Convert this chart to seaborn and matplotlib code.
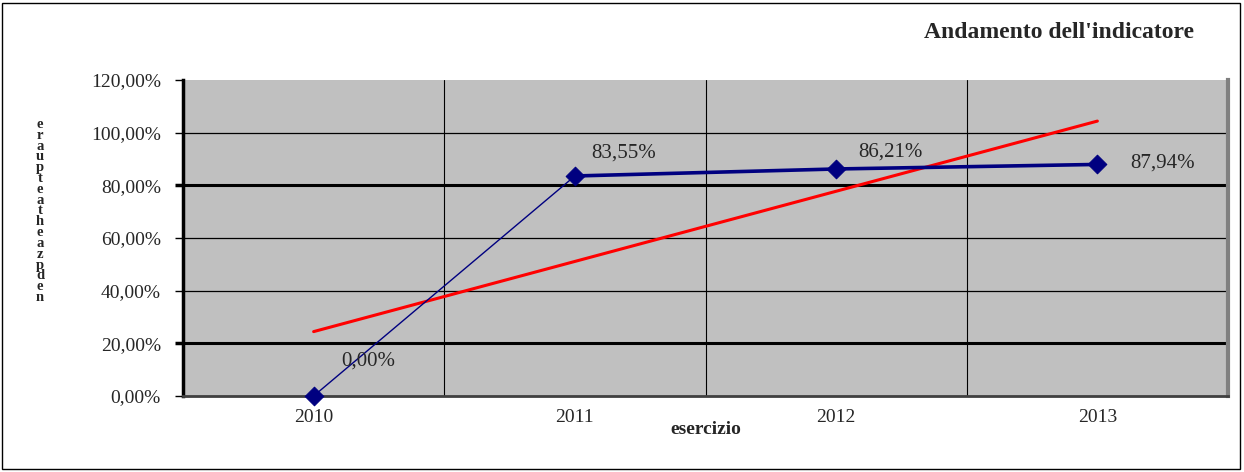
import numpy as np
import pandas as pd
import matplotlib
matplotlib.use("Agg")
import matplotlib.pyplot as plt
import seaborn as sns

anni = ["2010", "2011", "2012", "2013"]
valori = [0.00, 83.55, 86.21, 87.94]
etichette = ["0,00%", "83,55%", "86,21%", "87,94%"]
tick_y = [0, 20, 40, 60, 80, 100, 120]
tick_y_lab = ["0,00%", "20,00%", "40,00%", "60,00%", "80,00%", "100,00%", "120,00%"]
ylabel_lettere = list("eraupteatheazpden")

sns.set_style("white")
plt.rcParams["font.family"] = ["Liberation Serif", "DejaVu Serif"]

df = pd.DataFrame({"pos": np.arange(len(anni)), "anno": anni, "valore": valori})

fig = plt.figure(figsize=(12.44, 4.72), dpi=100)
ax = fig.add_axes([183/1244, 1-396/472, (1228-183)/1244, (396-80)/472])
ax.set_facecolor("#C0C0C0")

# griglia
for y in tick_y[1:-1]:
    lw = 2.2 if y in (20, 80) else 0.9
    ax.axhline(y, color="black", lw=lw, zorder=1)
for x in [0.5, 1.5, 2.5]:
    ax.axvline(x, color="black", lw=0.8, zorder=1)

# linea di tendenza
sns.regplot(data=df, x="pos", y="valore", ci=None, truncate=True, scatter=False,
            color="#FF0000", line_kws={"lw": 2.2, "zorder": 3}, ax=ax)

# serie: primo tratto sottile, il resto spesso
sns.lineplot(data=df.iloc[:2], x="pos", y="valore", color="#000080", lw=1.0, ax=ax, zorder=4)
sns.lineplot(data=df.iloc[1:], x="pos", y="valore", color="#000080", lw=2.6, ax=ax, zorder=4)
sns.scatterplot(data=df, x="pos", y="valore", color="#000080", marker="D", s=90,
                edgecolor="#000080", ax=ax, zorder=5, clip_on=False)

offs = [(20, 18), (12, 10), (16, 5), (24, -6)]
for i, (lab, o) in enumerate(zip(etichette, offs)):
    ax.annotate(lab, (i, valori[i]), xytext=o, textcoords="offset points",
                fontsize=15, ha="left", va="bottom", zorder=6)

ax.set_xlim(-0.5, 3.5)
ax.set_ylim(0, 120)
ax.set_yticks(tick_y)
ax.set_yticklabels(tick_y_lab, fontsize=14)
ax.set_xticks([-0.5, 0.5, 1.5, 2.5, 3.5])
ax.set_xticklabels([])
ax.set_xticks(range(len(anni)), minor=True)
ax.set_xticklabels(anni, minor=True, fontsize=14)
ax.tick_params(axis="x", which="major", direction="out", length=6, width=1, color="black")
ax.tick_params(axis="x", which="minor", length=0, pad=9)
ax.tick_params(axis="y", direction="out", length=6, width=1, color="black", pad=10, left=True)
for t, y in zip(ax.yaxis.get_major_ticks(), tick_y):
    if y in (20, 80):
        t.tick1line.set_markeredgewidth(2.5)

ax.set_xlabel("esercizio", fontsize=14, fontweight="bold", labelpad=-3)
ax.set_ylabel("")

ax.spines["top"].set_visible(False)
ax.spines["left"].set_color("black")
ax.spines["left"].set_linewidth(2.5)
ax.spines["right"].set_color("#808080")
ax.spines["right"].set_linewidth(3)
ax.spines["bottom"].set_color("#404040")
ax.spines["bottom"].set_linewidth(2)

fig.text(1194/1244, 1-33/472, "Andamento dell'indicatore", fontsize=17, fontweight="bold",
         ha="right", va="center")
fig.text(40/1244, 1-211/472, "\n".join(ylabel_lettere), fontsize=10.5, fontweight="bold",
         ha="center", va="center", linespacing=0.78)

fig.patches.append(plt.Rectangle((2/1244, 3/472), 1238/1244, 466/472, transform=fig.transFigure,
                                 fill=False, ec="black", lw=1))

fig.savefig("out.png", dpi=100)
